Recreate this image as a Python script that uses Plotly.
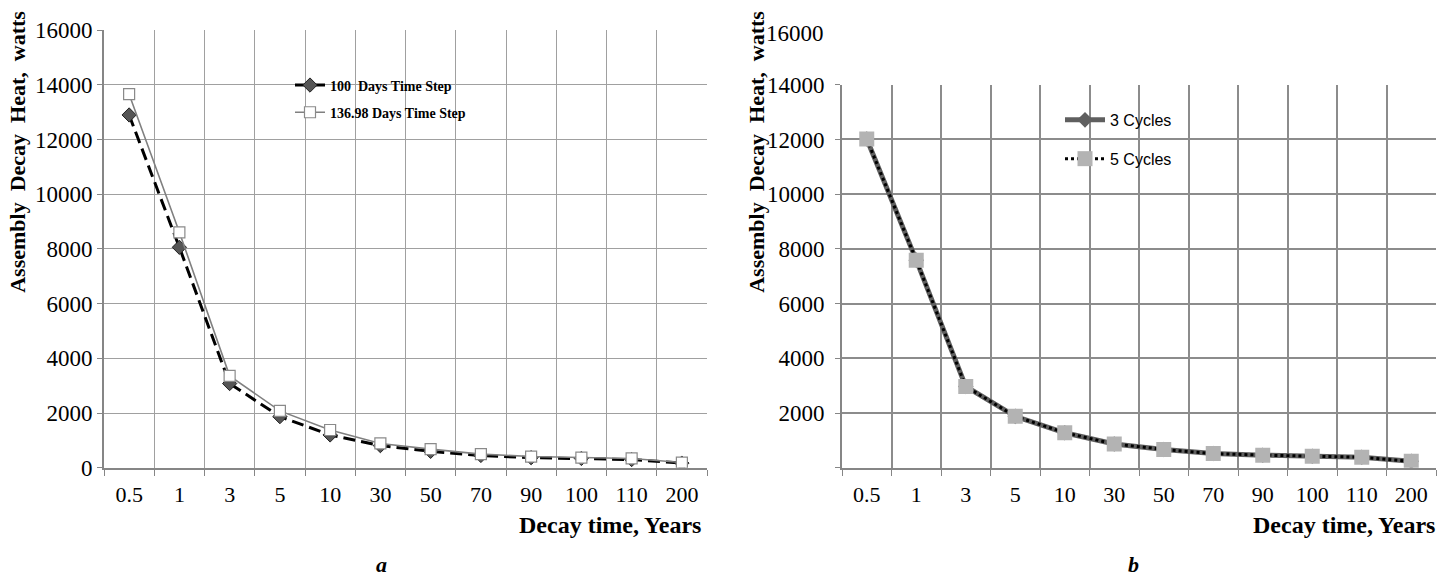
import plotly.graph_objects as go

categories = ["0.5", "1", "3", "5", "10", "30", "50", "70", "90", "100", "110", "200"]

# Panel a
heat_100_days = [12900, 8060, 3080, 1870, 1200, 810, 600, 450, 370, 340, 300, 170]
heat_136_days = [13660, 8610, 3360, 2080, 1380, 890, 680, 500, 410, 370, 340, 190]

# Panel b
heat_3_cycles = [12020, 7590, 2970, 1880, 1280, 870, 670, 520, 460, 420, 385, 235]
heat_5_cycles = [12020, 7590, 2970, 1880, 1280, 870, 670, 520, 460, 420, 385, 235]

y_ticks_a = [0, 2000, 4000, 6000, 8000, 10000, 12000, 14000, 16000]
y_text_a = ["0", "2000", "4000", "6000", "8000", "10000", "12000", "14000", "16000"]
y_ticks_b = [0, 2000, 4000, 6000, 8000, 10000, 12000, 14000]
y_text_b = ["", "2000", "4000", "6000", "8000", "10000", "12000", "14000"]

W, H = 1449, 588
SERIF = "Liberation Serif, Times New Roman, serif"
SANS = "Liberation Sans, Arial, sans-serif"
AXIS = "#868686"

fig = go.Figure()

fig.add_trace(go.Scatter(
    x=categories, y=heat_100_days, name="<b>100  Days Time Step</b>",
    mode="lines+markers", xaxis="x", yaxis="y", legend="legend", legendgroup="a1",
    line=dict(color="black", width=3, dash="12px,6px"),
    marker=dict(symbol="diamond", size=11, color="#555555",
                line=dict(color="#222222", width=1)),
))
fig.add_trace(go.Scatter(
    x=categories, y=heat_136_days, name="<b>136.98 Days Time Step</b>",
    mode="lines+markers", xaxis="x", yaxis="y", legend="legend", legendgroup="a2",
    line=dict(color="#808080", width=1.6),
    marker=dict(symbol="square", size=11, color="white",
                line=dict(color="#8a8a8a", width=1.2)),
))
fig.add_trace(go.Scatter(
    x=categories, y=heat_3_cycles, name="3 Cycles",
    mode="lines+markers", xaxis="x2", yaxis="y2", legend="legend2", legendgroup="b1",
    line=dict(color="#5f5f5f", width=5),
    marker=dict(symbol="diamond", size=12, color="#5f5f5f"),
))
fig.add_trace(go.Scatter(
    x=categories, y=heat_5_cycles, name="5 Cycles",
    mode="lines+markers", xaxis="x2", yaxis="y2", legend="legend2", legendgroup="b2",
    line=dict(color="black", width=3, dash="dot"),
    marker=dict(symbol="square", size=15, color="#b3b3b3"),
))


def xaxis_cfg(grid, gw):
    return dict(
        type="category", range=[-0.5, 11.5], tickson="boundaries",
        showgrid=True, gridcolor=grid, gridwidth=gw,
        showline=True, linecolor=AXIS, linewidth=2,
        ticks="outside", ticklen=6, tickcolor=AXIS, tickwidth=1.2,
        tickfont=dict(family=SERIF, size=22, color="black"),
        ticklabelstandoff=6,
        zeroline=False, fixedrange=True,
    )


def yaxis_cfg(grid, gw):
    return dict(
        showgrid=True, gridcolor=grid, gridwidth=gw,
        showline=True, linecolor=AXIS, linewidth=2,
        ticks="outside", ticklen=5, tickcolor=AXIS, tickwidth=1.2,
        tickfont=dict(family=SERIF, size=23, color="black"),
        zeroline=False, fixedrange=True,
    )


fig.update_layout(
    width=W, height=H,
    margin=dict(l=0, r=0, t=0, b=0),
    paper_bgcolor="white", plot_bgcolor="white",
    font=dict(family=SERIF),
    xaxis=dict(domain=[104 / W, 707 / W], anchor="y", **xaxis_cfg("#a0a0a0", 1.2)),
    yaxis=dict(domain=[(H - 476) / H, (H - 19) / H], anchor="x",
               range=[0, 16000], tickvals=y_ticks_a, ticktext=y_text_a,
               **yaxis_cfg("#a0a0a0", 1.2)),
    xaxis2=dict(domain=[842 / W, 1436 / W], anchor="y2", **xaxis_cfg("#8c8c8c", 1.5)),
    yaxis2=dict(domain=[(H - 476) / H, (H - 76) / H], anchor="x2",
                range=[0, 14000], tickvals=y_ticks_b, ticktext=y_text_b,
                ticklabelstandoff=6, **yaxis_cfg("#8c8c8c", 1.5)),
    legend=dict(
        x=290 / W, y=(H - 60) / H, xanchor="left", yanchor="top",
        bgcolor="rgba(0,0,0,0)", borderwidth=0,
        font=dict(family=SERIF, size=14, color="black"),
        tracegroupgap=6, itemsizing="trace",
    ),
    legend2=dict(
        x=1060 / W, y=(H - 95) / H, xanchor="left", yanchor="top",
        bgcolor="rgba(0,0,0,0)", borderwidth=0,
        font=dict(family=SANS, size=16, color="black"),
        tracegroupgap=15, itemsizing="trace", itemwidth=40,
    ),
    showlegend=True,
)

ann = []
for xc in (18, 757):
    ann.append(dict(
        text="<b>Assembly  Decay  Heat,  watts</b>", textangle=-90,
        x=xc / W, y=(H - 146) / H, xref="paper", yref="paper",
        xanchor="center", yanchor="middle", showarrow=False,
        font=dict(family=SERIF, size=22, color="black"),
    ))
for xr in (703, 1437):
    ann.append(dict(
        text="<b>Decay time, Years</b>",
        x=xr / W, y=(H - 536) / H, xref="paper", yref="paper",
        xanchor="right", yanchor="middle", showarrow=False,
        font=dict(family=SERIF, size=24, color="black"),
    ))
for txt, xc in (("a", 382), ("b", 1133)):
    ann.append(dict(
        text=f"<b><i>{txt}</i></b>",
        x=xc / W, y=(H - 577) / H, xref="paper", yref="paper",
        xanchor="center", yanchor="middle", showarrow=False,
        font=dict(family=SERIF, size=22, color="black"),
    ))
ann.append(dict(
    text="16000", x=826 / W, y=(H - 22) / H, xref="paper", yref="paper",
    xanchor="right", yanchor="middle", showarrow=False,
    font=dict(family=SERIF, size=23, color="black"),
))
fig.update_layout(annotations=ann)

fig.write_html("out.html")
